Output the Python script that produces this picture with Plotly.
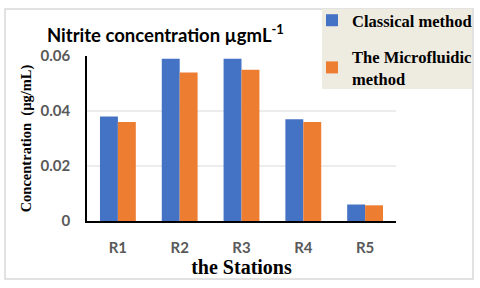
import plotly.graph_objects as go

stations = ["R1", "R2", "R3", "R4", "R5"]
classical = [0.038, 0.059, 0.059, 0.037, 0.006]
microfluidic = [0.036, 0.054, 0.055, 0.036, 0.0057]
y_ticks = [0, 0.02, 0.04, 0.06]
y_tick_text = ["0", "0.02", "0.04", "0.06"]
grid_values = [0.02, 0.04]

BLUE = "#4472C4"
ORANGE = "#ED7D31"
SERIF = "Liberation Serif, Times New Roman, serif"
SANS = "Lato, Carlito, Calibri, sans-serif"

# plot area in pixels
L, R, T, B = 87, 396, 56, 221
W, H = R - L, B - T

def px_x(x):
    return (x - L) / W

def px_y(y):
    return (B - y) / H

fig = go.Figure()
fig.add_trace(go.Bar(x=stations, y=classical, name="Classical method",
                     marker=dict(color=BLUE, line=dict(width=0)),
                     legendgroup="a"))
fig.add_trace(go.Bar(x=stations, y=microfluidic, name="The Microfluidic<br>method",
                     marker=dict(color=ORANGE, line=dict(width=0)),
                     legendgroup="b"))

shapes = []
for g in grid_values:
    shapes.append(dict(type="line", xref="paper", yref="y", x0=0, x1=1, y0=g, y1=g,
                       line=dict(color="#D9D9D9", width=1), layer="below"))
# outer chart border
shapes.append(dict(type="rect", xref="paper", yref="paper",
                   x0=px_x(5), x1=px_x(473), y0=px_y(279), y1=px_y(9),
                   line=dict(color="#D9D9D9", width=1.5), layer="below"))
# legend box
shapes.append(dict(type="rect", xref="paper", yref="paper",
                   x0=px_x(322), x1=px_x(472), y0=px_y(89), y1=px_y(9),
                   line=dict(width=0), fillcolor="#EEEBE1", layer="below"))

fig.update_layout(
    width=480, height=288,
    margin=dict(l=L, r=480 - R, t=T, b=288 - B, autoexpand=False),
    paper_bgcolor="white", plot_bgcolor="white",
    barmode="group", bargap=0.42, bargroupgap=0,
    xaxis=dict(showline=True, linecolor="#000000", linewidth=1.5, ticks="",
               automargin=False,
               tickfont=dict(family=SANS, size=15, color="#595959", weight="bold"),
               ticklabelstandoff=12,
               title=dict(text="the Stations", standoff=0,
                          font=dict(family=SERIF, size=20, color="#000000", weight="bold"))),
    yaxis=dict(range=[0, 0.06], tickvals=y_ticks, ticktext=y_tick_text, showgrid=False,
               showline=True, linecolor="#000000", linewidth=1.5, ticks="", zeroline=False,
               automargin=False,
               tickfont=dict(family=SANS, size=15, color="#595959", weight="bold"),
               ticklabelstandoff=12,
               title=dict(text="Concentration  (µg/mL)", standoff=6,
                          font=dict(family=SERIF, size=14.5, color="#000000", weight="bold"))),
    legend=dict(x=px_x(312), y=px_y(3), xanchor="left", yanchor="top",
                bgcolor="rgba(0,0,0,0)", traceorder="grouped", tracegroupgap=12,
                itemwidth=30,
                font=dict(family=SERIF, size=16.5, color="#000000", weight="bold")),
    annotations=[dict(text="Nitrite concentration µgmL<sup>-1</sup>", xref="paper", yref="paper",
                      x=px_x(45), y=px_y(33), xanchor="left", yanchor="middle", showarrow=False,
                      font=dict(family=SANS, size=18.5, color="#000000", weight="bold"))],
    shapes=shapes,
)

fig.write_html("out.html", post_script="document.body.style.margin='0';",
               config={"displayModeBar": False})
